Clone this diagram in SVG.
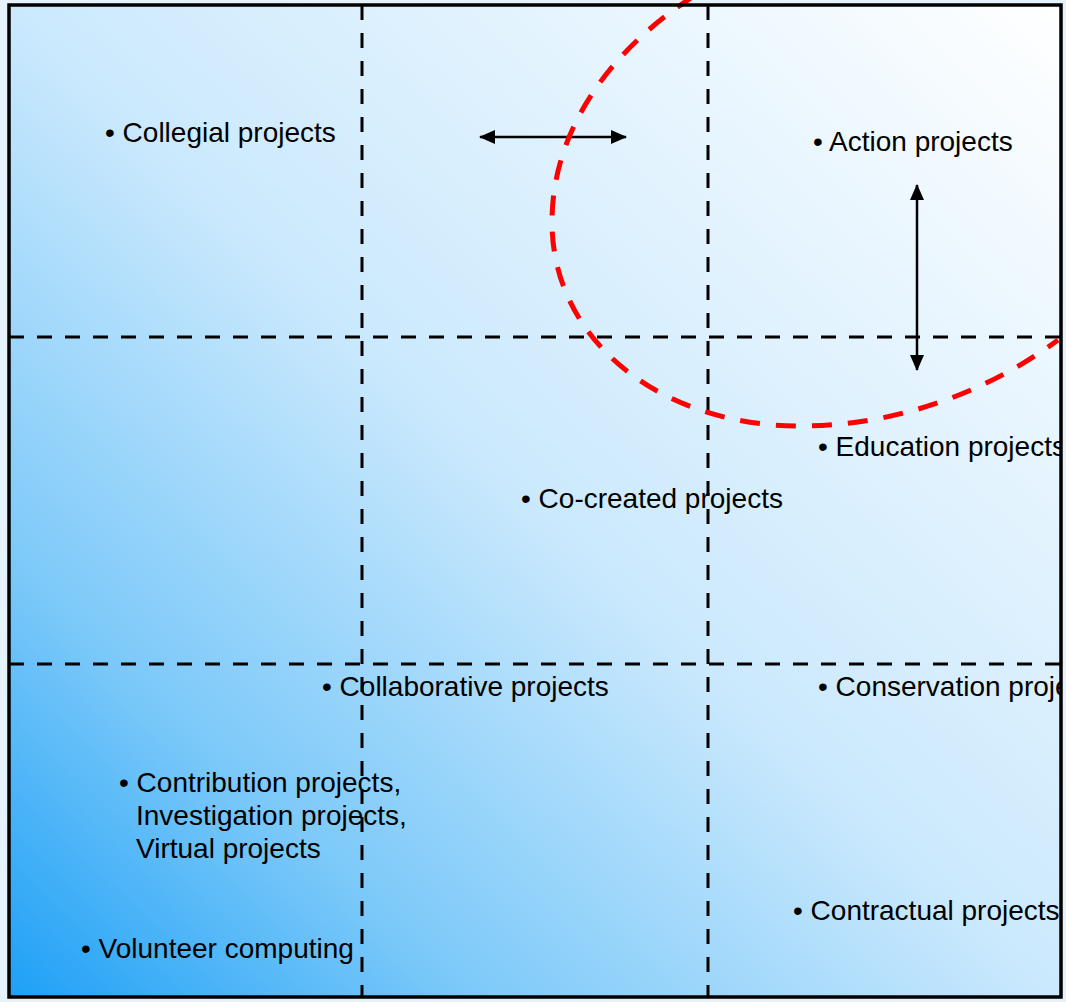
<svg xmlns="http://www.w3.org/2000/svg" width="1066" height="1002" viewBox="0 0 1066 1002">
  <defs>
    <linearGradient id="bg" x1="0" y1="1" x2="1" y2="0">
      <stop offset="0" stop-color="#1ea0f6"/>
      <stop offset="0.22" stop-color="#7cc9f9"/>
      <stop offset="0.5" stop-color="#cbe9fd"/>
      <stop offset="1" stop-color="#ffffff"/>
    </linearGradient>
    <clipPath id="frame">
      <rect x="9" y="5" width="1052" height="992"/>
    </clipPath>
    <marker id="ah" viewBox="0 0 16 14" refX="15" refY="7" markerWidth="16" markerHeight="14" markerUnits="userSpaceOnUse" orient="auto-start-reverse">
      <path d="M0,0 L16,7 L0,14 Z" fill="#000"/>
    </marker>
    <style>
      .lbl { font-family: "Liberation Sans", Arial, sans-serif; font-size: 28px; fill: #000; }
      .grid { stroke: #000; stroke-width: 3; stroke-dasharray: 15 13; fill: none; }
      .arr { stroke: #000; stroke-width: 2.5; fill: none; }
      .red { stroke: #ff0000; stroke-width: 5; stroke-dasharray: 20 16; fill: none; }
    </style>
  </defs>
  <rect x="0" y="0" width="1066" height="1002" fill="#e6f2fb"/>
  <g id="frame-box">
    <rect x="9" y="5" width="1052" height="992" fill="url(#bg)"/>
  </g>
  <g id="grid">
    <line class="grid" x1="362" y1="5" x2="362" y2="997"/>
    <line class="grid" x1="708" y1="5" x2="708" y2="997"/>
    <line class="grid" x1="9" y1="337" x2="1061" y2="337"/>
    <line class="grid" x1="9" y1="664" x2="1061" y2="664"/>
  </g>
  <g id="labels" clip-path="url(#frame)">
    <g id="collegial"><text class="lbl" x="105" y="142">• Collegial projects</text></g>
    <g id="action"><text class="lbl" x="813" y="151">• Action projects</text></g>
    <g id="education"><text class="lbl" x="818" y="456">• Education projects</text></g>
    <g id="cocreated"><text class="lbl" x="521" y="508">• Co-created projects</text></g>
    <g id="collaborative"><text class="lbl" x="322" y="696">• Collaborative projects</text></g>
    <g id="conservation"><text class="lbl" x="818" y="696">• Conservation projects</text></g>
    <g id="contribution"><text class="lbl" x="119" y="792">• Contribution projects,</text>
      <text class="lbl" x="136" y="825">Investigation projects,</text>
      <text class="lbl" x="136" y="858">Virtual projects</text></g>
    <g id="contractual"><text class="lbl" x="793" y="920">• Contractual projects</text></g>
    <g id="volunteer"><text class="lbl" x="81" y="958">• Volunteer computing</text></g>
  </g>
  <g id="connectors">
    <line class="arr" x1="480" y1="137" x2="626" y2="137" marker-start="url(#ah)" marker-end="url(#ah)"/>
    <line class="arr" x1="917" y1="185" x2="917" y2="370" marker-start="url(#ah)" marker-end="url(#ah)"/>
    <path class="red" d="M694,-4 C610,50 552,130 552,222 C552,340 660,426 800,426 C900,426 990,390 1058,340"/>
  </g>
  <rect x="9" y="5" width="1052" height="992" fill="none" stroke="#000" stroke-width="3.5"/>
</svg>
